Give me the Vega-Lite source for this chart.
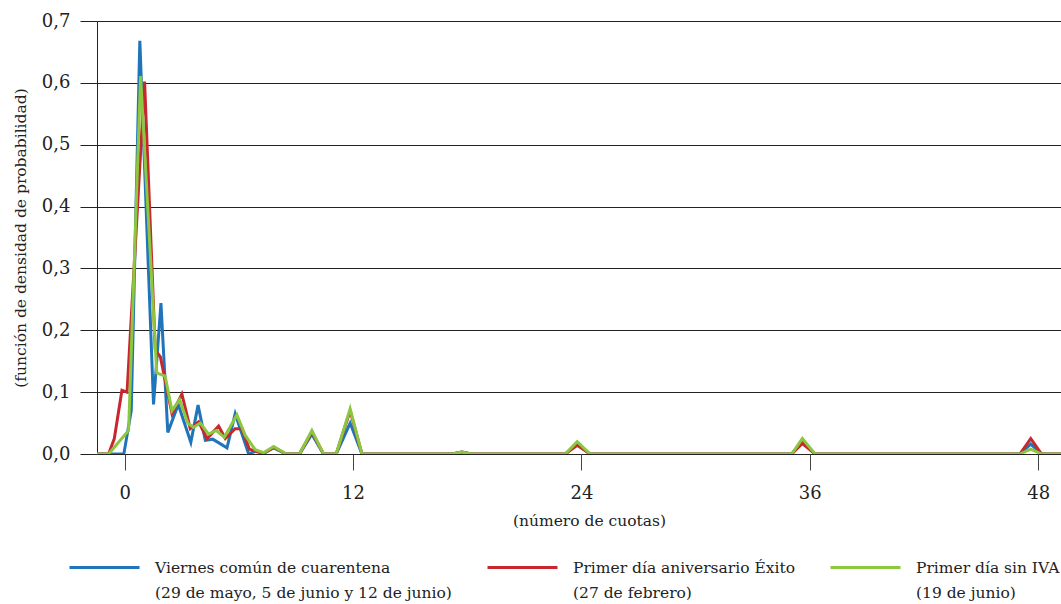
{
  "$schema": "https://vega.github.io/schema/vega-lite/v6.json",
  "width": 964,
  "height": 433,
  "autosize": {"type": "none"},
  "padding": {"left": 97, "top": 21, "right": 0, "bottom": 150},
  "background": "white",
  "config": {
    "font": "DejaVu Serif",
    "view": {"stroke": null},
    "axis": {"labelFont": "DejaVu Serif", "titleFont": "DejaVu Serif", "labelColor": "#222", "titleColor": "#222", "titleFontWeight": "normal"},
    "legend": {"labelFont": "DejaVu Serif", "labelColor": "#222"}
  },
  "data": {
    "values": [
      {"serie": "Viernes común de cuarentena", "cuotas": -1.45, "densidad": 0},
      {"serie": "Viernes común de cuarentena", "cuotas": -0.04, "densidad": 0},
      {"serie": "Viernes común de cuarentena", "cuotas": 0.35, "densidad": 0.07},
      {"serie": "Viernes común de cuarentena", "cuotas": 0.80, "densidad": 0.668},
      {"serie": "Viernes común de cuarentena", "cuotas": 1.52, "densidad": 0.08},
      {"serie": "Viernes común de cuarentena", "cuotas": 1.91, "densidad": 0.244},
      {"serie": "Viernes común de cuarentena", "cuotas": 2.27, "densidad": 0.035},
      {"serie": "Viernes común de cuarentena", "cuotas": 2.82, "densidad": 0.08},
      {"serie": "Viernes común de cuarentena", "cuotas": 3.48, "densidad": 0.019},
      {"serie": "Viernes común de cuarentena", "cuotas": 3.86, "densidad": 0.079},
      {"serie": "Viernes común de cuarentena", "cuotas": 4.24, "densidad": 0.022},
      {"serie": "Viernes común de cuarentena", "cuotas": 4.63, "densidad": 0.024},
      {"serie": "Viernes común de cuarentena", "cuotas": 5.38, "densidad": 0.01},
      {"serie": "Viernes común de cuarentena", "cuotas": 5.81, "densidad": 0.065},
      {"serie": "Viernes común de cuarentena", "cuotas": 6.52, "densidad": 0},
      {"serie": "Viernes común de cuarentena", "cuotas": 6.92, "densidad": 0.005},
      {"serie": "Viernes común de cuarentena", "cuotas": 7.30, "densidad": 0.001},
      {"serie": "Viernes común de cuarentena", "cuotas": 7.83, "densidad": 0.01},
      {"serie": "Viernes común de cuarentena", "cuotas": 8.49, "densidad": 0},
      {"serie": "Viernes común de cuarentena", "cuotas": 9.19, "densidad": 0},
      {"serie": "Viernes común de cuarentena", "cuotas": 9.84, "densidad": 0.032},
      {"serie": "Viernes común de cuarentena", "cuotas": 10.45, "densidad": 0},
      {"serie": "Viernes común de cuarentena", "cuotas": 11.12, "densidad": 0},
      {"serie": "Viernes común de cuarentena", "cuotas": 11.85, "densidad": 0.05},
      {"serie": "Viernes común de cuarentena", "cuotas": 12.47, "densidad": 0},
      {"serie": "Viernes común de cuarentena", "cuotas": 17.21, "densidad": 0},
      {"serie": "Viernes común de cuarentena", "cuotas": 17.72, "densidad": 0.003},
      {"serie": "Viernes común de cuarentena", "cuotas": 18.21, "densidad": 0},
      {"serie": "Viernes común de cuarentena", "cuotas": 23.15, "densidad": 0},
      {"serie": "Viernes común de cuarentena", "cuotas": 23.78, "densidad": 0.016},
      {"serie": "Viernes común de cuarentena", "cuotas": 24.46, "densidad": 0},
      {"serie": "Viernes común de cuarentena", "cuotas": 35.05, "densidad": 0},
      {"serie": "Viernes común de cuarentena", "cuotas": 35.61, "densidad": 0.021},
      {"serie": "Viernes común de cuarentena", "cuotas": 36.28, "densidad": 0},
      {"serie": "Viernes común de cuarentena", "cuotas": 47.04, "densidad": 0},
      {"serie": "Viernes común de cuarentena", "cuotas": 47.61, "densidad": 0.016},
      {"serie": "Viernes común de cuarentena", "cuotas": 48.18, "densidad": 0},
      {"serie": "Viernes común de cuarentena", "cuotas": 49.2, "densidad": 0},

      {"serie": "Primer día aniversario Éxito", "cuotas": -1.45, "densidad": 0},
      {"serie": "Primer día aniversario Éxito", "cuotas": -0.84, "densidad": 0},
      {"serie": "Primer día aniversario Éxito", "cuotas": -0.54, "densidad": 0.025},
      {"serie": "Primer día aniversario Éxito", "cuotas": -0.14, "densidad": 0.103},
      {"serie": "Primer día aniversario Éxito", "cuotas": 0.13, "densidad": 0.1},
      {"serie": "Primer día aniversario Éxito", "cuotas": 1.05, "densidad": 0.602},
      {"serie": "Primer día aniversario Éxito", "cuotas": 1.61, "densidad": 0.168},
      {"serie": "Primer día aniversario Éxito", "cuotas": 1.88, "densidad": 0.157},
      {"serie": "Primer día aniversario Éxito", "cuotas": 2.49, "densidad": 0.065},
      {"serie": "Primer día aniversario Éxito", "cuotas": 3.01, "densidad": 0.097},
      {"serie": "Primer día aniversario Éxito", "cuotas": 3.45, "densidad": 0.041},
      {"serie": "Primer día aniversario Éxito", "cuotas": 3.89, "densidad": 0.052},
      {"serie": "Primer día aniversario Éxito", "cuotas": 4.33, "densidad": 0.025},
      {"serie": "Primer día aniversario Éxito", "cuotas": 4.94, "densidad": 0.045},
      {"serie": "Primer día aniversario Éxito", "cuotas": 5.29, "densidad": 0.025},
      {"serie": "Primer día aniversario Éxito", "cuotas": 5.81, "densidad": 0.041},
      {"serie": "Primer día aniversario Éxito", "cuotas": 6.17, "densidad": 0.041},
      {"serie": "Primer día aniversario Éxito", "cuotas": 6.55, "densidad": 0.008},
      {"serie": "Primer día aniversario Éxito", "cuotas": 6.92, "densidad": 0.004},
      {"serie": "Primer día aniversario Éxito", "cuotas": 7.30, "densidad": 0.001},
      {"serie": "Primer día aniversario Éxito", "cuotas": 7.83, "densidad": 0.011},
      {"serie": "Primer día aniversario Éxito", "cuotas": 8.49, "densidad": 0},
      {"serie": "Primer día aniversario Éxito", "cuotas": 9.19, "densidad": 0},
      {"serie": "Primer día aniversario Éxito", "cuotas": 9.84, "densidad": 0.036},
      {"serie": "Primer día aniversario Éxito", "cuotas": 10.45, "densidad": 0},
      {"serie": "Primer día aniversario Éxito", "cuotas": 11.12, "densidad": 0},
      {"serie": "Primer día aniversario Éxito", "cuotas": 11.85, "densidad": 0.07},
      {"serie": "Primer día aniversario Éxito", "cuotas": 12.47, "densidad": 0},
      {"serie": "Primer día aniversario Éxito", "cuotas": 17.21, "densidad": 0},
      {"serie": "Primer día aniversario Éxito", "cuotas": 17.72, "densidad": 0.003},
      {"serie": "Primer día aniversario Éxito", "cuotas": 18.21, "densidad": 0},
      {"serie": "Primer día aniversario Éxito", "cuotas": 23.15, "densidad": 0},
      {"serie": "Primer día aniversario Éxito", "cuotas": 23.78, "densidad": 0.014},
      {"serie": "Primer día aniversario Éxito", "cuotas": 24.46, "densidad": 0},
      {"serie": "Primer día aniversario Éxito", "cuotas": 35.05, "densidad": 0},
      {"serie": "Primer día aniversario Éxito", "cuotas": 35.61, "densidad": 0.017},
      {"serie": "Primer día aniversario Éxito", "cuotas": 36.28, "densidad": 0},
      {"serie": "Primer día aniversario Éxito", "cuotas": 47.04, "densidad": 0},
      {"serie": "Primer día aniversario Éxito", "cuotas": 47.61, "densidad": 0.025},
      {"serie": "Primer día aniversario Éxito", "cuotas": 48.18, "densidad": 0},
      {"serie": "Primer día aniversario Éxito", "cuotas": 49.2, "densidad": 0},

      {"serie": "Primer día sin IVA", "cuotas": -1.45, "densidad": 0},
      {"serie": "Primer día sin IVA", "cuotas": -0.84, "densidad": 0},
      {"serie": "Primer día sin IVA", "cuotas": 0.21, "densidad": 0.038},
      {"serie": "Primer día sin IVA", "cuotas": 0.84, "densidad": 0.611},
      {"serie": "Primer día sin IVA", "cuotas": 1.69, "densidad": 0.131},
      {"serie": "Primer día sin IVA", "cuotas": 2.13, "densidad": 0.126},
      {"serie": "Primer día sin IVA", "cuotas": 2.49, "densidad": 0.07},
      {"serie": "Primer día sin IVA", "cuotas": 2.89, "densidad": 0.088},
      {"serie": "Primer día sin IVA", "cuotas": 3.32, "densidad": 0.05},
      {"serie": "Primer día sin IVA", "cuotas": 3.62, "densidad": 0.043},
      {"serie": "Primer día sin IVA", "cuotas": 3.98, "densidad": 0.05},
      {"serie": "Primer día sin IVA", "cuotas": 4.41, "densidad": 0.032},
      {"serie": "Primer día sin IVA", "cuotas": 4.82, "densidad": 0.038},
      {"serie": "Primer día sin IVA", "cuotas": 5.24, "densidad": 0.027},
      {"serie": "Primer día sin IVA", "cuotas": 5.90, "densidad": 0.063},
      {"serie": "Primer día sin IVA", "cuotas": 6.34, "densidad": 0.03},
      {"serie": "Primer día sin IVA", "cuotas": 6.86, "densidad": 0.007},
      {"serie": "Primer día sin IVA", "cuotas": 7.30, "densidad": 0.002},
      {"serie": "Primer día sin IVA", "cuotas": 7.83, "densidad": 0.012},
      {"serie": "Primer día sin IVA", "cuotas": 8.49, "densidad": 0},
      {"serie": "Primer día sin IVA", "cuotas": 9.19, "densidad": 0},
      {"serie": "Primer día sin IVA", "cuotas": 9.84, "densidad": 0.038},
      {"serie": "Primer día sin IVA", "cuotas": 10.45, "densidad": 0},
      {"serie": "Primer día sin IVA", "cuotas": 11.12, "densidad": 0},
      {"serie": "Primer día sin IVA", "cuotas": 11.85, "densidad": 0.073},
      {"serie": "Primer día sin IVA", "cuotas": 12.47, "densidad": 0},
      {"serie": "Primer día sin IVA", "cuotas": 17.21, "densidad": 0},
      {"serie": "Primer día sin IVA", "cuotas": 17.72, "densidad": 0.003},
      {"serie": "Primer día sin IVA", "cuotas": 18.21, "densidad": 0},
      {"serie": "Primer día sin IVA", "cuotas": 23.15, "densidad": 0},
      {"serie": "Primer día sin IVA", "cuotas": 23.78, "densidad": 0.02},
      {"serie": "Primer día sin IVA", "cuotas": 24.46, "densidad": 0},
      {"serie": "Primer día sin IVA", "cuotas": 35.05, "densidad": 0},
      {"serie": "Primer día sin IVA", "cuotas": 35.61, "densidad": 0.025},
      {"serie": "Primer día sin IVA", "cuotas": 36.28, "densidad": 0},
      {"serie": "Primer día sin IVA", "cuotas": 47.04, "densidad": 0},
      {"serie": "Primer día sin IVA", "cuotas": 47.61, "densidad": 0.008},
      {"serie": "Primer día sin IVA", "cuotas": 48.18, "densidad": 0},
      {"serie": "Primer día sin IVA", "cuotas": 49.2, "densidad": 0}
    ]
  },
  "mark": {"type": "line", "strokeWidth": 3, "clip": true, "strokeJoin": "miter"},
  "encoding": {
    "x": {
      "field": "cuotas",
      "type": "quantitative",
      "scale": {"domain": [-1.45, 49.2], "nice": false, "zero": false},
      "axis": {
        "title": "(número de cuotas)",
        "titleX": 492,
        "values": [0, 12, 24, 36, 48],
        "grid": false,
        "domain": false,
        "tickSize": 16,
        "tickColor": "#444",
        "labelPadding": 14,
        "labelFontSize": 18,
        "titleFontSize": 15.5,
        "titlePadding": 11
      }
    },
    "y": {
      "field": "densidad",
      "type": "quantitative",
      "scale": {"domain": [0, 0.7], "nice": false},
      "axis": {
        "title": "(función de densidad de probabilidad)",
        "values": [0, 0.1, 0.2, 0.3, 0.4, 0.5, 0.6, 0.7],
        "labelExpr": "replace(format(datum.value, '.1f'), '.', ',')",
        "grid": true,
        "gridColor": "#222",
        "gridWidth": 1,
        "tickSize": 17,
        "tickColor": "#222",
        "domainColor": "#222",
        "labelPadding": 10,
        "labelFontSize": 18,
        "titleFontSize": 15.5,
        "titlePadding": 13
      }
    },
    "color": {
      "field": "serie",
      "type": "nominal",
      "scale": {
        "domain": ["Viernes común de cuarentena", "Primer día aniversario Éxito", "Primer día sin IVA"],
        "range": ["#1f74ba", "#c7282f", "#8dc63f"]
      },
      "legend": {
        "title": null,
        "orient": "none",
        "legendX": -29,
        "legendY": 510,
        "direction": "horizontal",
        "columns": 3,
        "columnPadding": 29,
        "symbolType": "stroke",
        "symbolSize": 4900,
        "symbolStrokeWidth": 3,
        "labelOffset": 14,
        "labelLimit": 600,
        "labelFontSize": 15.5,
        "labelBaseline": "middle",
        "padding": 0,
        "labelExpr": "datum.label == 'Viernes común de cuarentena' ? ['Viernes común de cuarentena', '(29 de mayo, 5 de junio y 12 de junio)'] : datum.label == 'Primer día aniversario Éxito' ? ['Primer día aniversario Éxito', '(27 de febrero)'] : ['Primer día sin IVA', '(19 de junio)']",
        "encode": {"labels": {"update": {"lineHeight": {"value": 25}}}}
      }
    }
  }
}
